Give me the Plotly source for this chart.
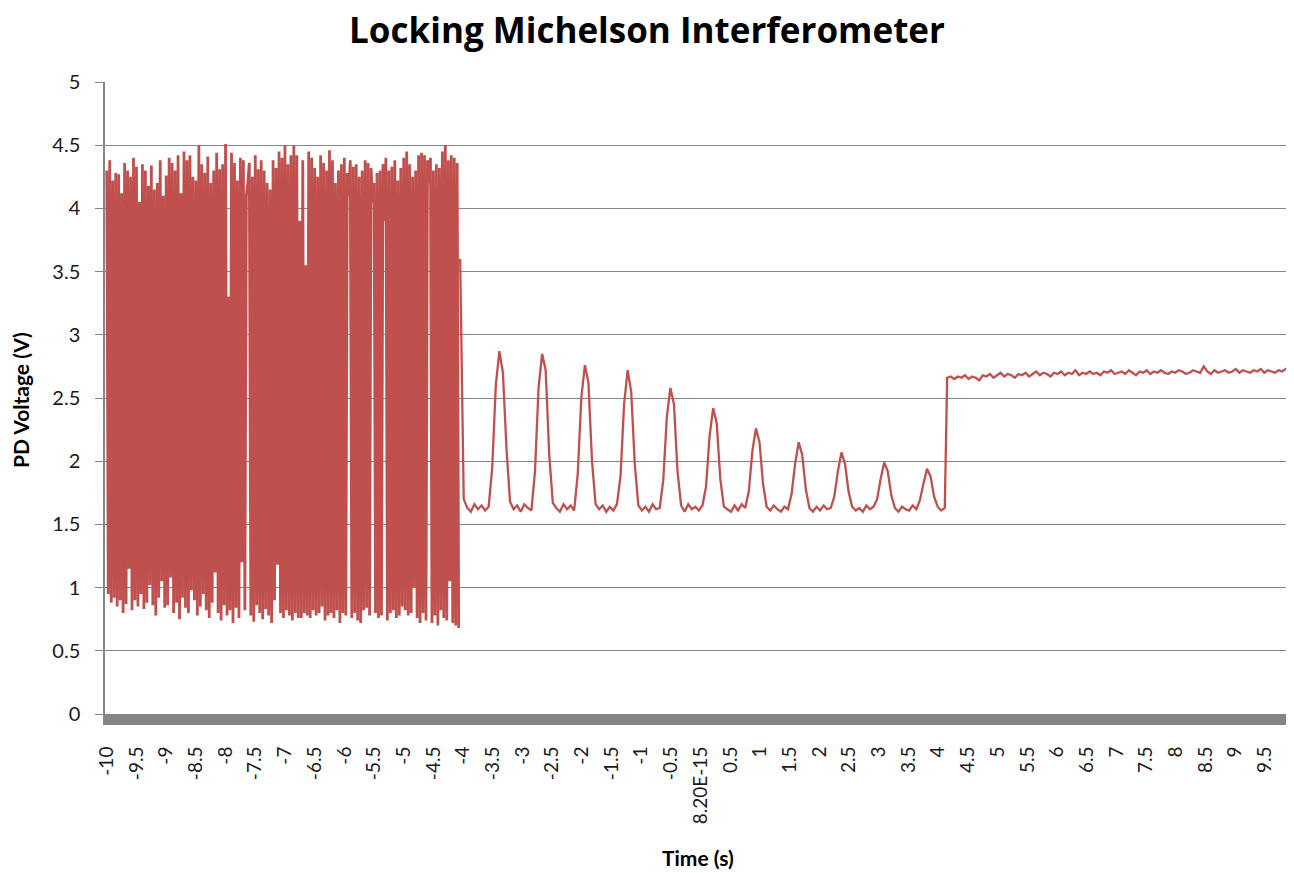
import numpy as np
import plotly.graph_objects as go

# ---------------- data ----------------
# Unlocked part: fast fringe sweeping, sampled every 0.025 s from t = -10 s
noisy_t0, noisy_dt = -10.0, 0.025
noisy_high = [
    4.30, 4.38, 4.22, 4.28, 4.27, 4.12, 4.36, 4.30, 4.25, 4.40, 4.33, 4.05, 4.35, 4.30, 4.18, 4.34, 4.15, 4.20, 4.38, 4.10,
    4.26, 4.40, 4.36, 4.30, 4.42, 4.12, 4.45, 4.38, 4.42, 4.25, 4.22, 4.50, 4.35, 4.28, 4.41, 4.20, 4.30, 4.44, 4.31, 4.35,
    4.51, 3.30, 4.44, 4.36, 4.22, 4.40, 4.38, 4.10, 4.36, 4.25, 4.42, 4.31, 4.38, 4.30, 4.20, 4.15, 4.38, 4.32, 4.45, 4.40,
    4.50, 4.35, 4.42, 4.50, 4.42, 3.90, 4.38, 3.55, 4.45, 4.40, 4.32, 4.25, 4.42, 4.36, 4.30, 4.46, 4.38, 4.20, 4.30, 4.35,
    4.40, 4.28, 4.38, 4.33, 4.35, 4.25, 4.30, 4.38, 4.36, 4.32, 4.20, 4.28, 4.30, 4.35, 4.40, 4.30, 4.33, 4.38, 4.22, 4.32,
    4.40, 4.45, 4.35, 4.25, 4.30, 4.42, 4.44, 4.42, 4.38, 4.40, 4.30, 4.35, 4.32, 4.45, 4.50, 4.38, 4.42, 4.40, 4.36,
]
noisy_low = [
    0.95, 0.88, 0.92, 0.85, 0.90, 0.80, 0.87, 1.15, 0.82, 0.90, 0.85, 0.95, 0.83, 0.88, 1.02, 0.86, 0.78, 0.92, 1.05, 0.84,
    0.86, 1.08, 0.80, 0.88, 0.75, 0.92, 0.84, 0.80, 0.98, 0.90, 0.78, 0.85, 0.95, 0.82, 0.76, 0.88, 1.12, 0.80, 0.74, 0.86,
    0.78, 0.82, 0.72, 0.84, 0.76, 1.20, 0.82, 4.20, 0.78, 0.73, 0.86, 0.80, 0.75, 0.83, 0.78, 0.72, 0.90, 1.18, 0.80, 0.76,
    0.82, 0.78, 0.74, 0.80, 0.76, 0.76, 0.80, 0.78, 0.76, 0.82, 0.78, 0.80, 0.85, 0.74, 0.78, 0.80, 0.76, 0.82, 0.72, 0.80,
    0.78, 4.10, 0.76, 0.80, 0.74, 0.72, 0.82, 0.84, 0.78, 4.05, 0.80, 0.76, 0.78, 3.90, 0.74, 0.80, 0.82, 0.76, 0.78, 0.85,
    0.82, 0.78, 0.80, 1.00, 0.76, 0.72, 0.80, 0.74, 4.20, 0.72, 0.78, 0.70, 0.82, 0.76, 0.74, 1.05, 0.72, 0.70, 0.68,
]

# Lock being acquired: decaying fringes, sampled every 0.06 s from t = -4.05 s
osc_t0, osc_dt = -4.05, 0.06
osc_values = [
    3.60, 1.70, 1.63, 1.60, 1.66, 1.62, 1.65, 1.61, 1.64,
    1.95, 2.60, 2.87, 2.70, 2.10, 1.68,
    1.62, 1.65, 1.60, 1.66, 1.63, 1.61,
    1.92, 2.58, 2.85, 2.72, 2.05, 1.67,
    1.63, 1.60, 1.66, 1.62, 1.65, 1.61,
    1.90, 2.50, 2.76, 2.62, 2.00, 1.66,
    1.62, 1.65, 1.60, 1.64, 1.61, 1.66,
    1.88, 2.45, 2.72, 2.55, 1.98, 1.65,
    1.61, 1.64, 1.60, 1.66, 1.62, 1.63,
    1.85, 2.35, 2.58, 2.45, 1.92, 1.65,
    1.60, 1.66, 1.62, 1.64, 1.61, 1.65,
    1.80, 2.20, 2.42, 2.30, 1.86, 1.64,
    1.62, 1.60, 1.65, 1.61, 1.66, 1.63,
    1.76, 2.08, 2.26, 2.15, 1.82, 1.64,
    1.61, 1.65, 1.62, 1.60, 1.64, 1.62,
    1.74, 1.98, 2.15, 2.05, 1.78, 1.63,
    1.60, 1.64, 1.61, 1.65, 1.62, 1.63,
    1.72, 1.92, 2.07, 1.98, 1.76, 1.64,
    1.61, 1.63, 1.60, 1.65, 1.62, 1.64,
    1.70, 1.86, 1.99, 1.92, 1.73, 1.63,
    1.60, 1.64, 1.62, 1.61, 1.65, 1.62,
    1.69, 1.82, 1.94, 1.88, 1.72, 1.64,
    1.61, 1.63,
]

# Locked: flat level, sampled every 0.06 s from t = 4.15 s
lock_t0, lock_dt = 4.15, 0.06
lock_values = [
    2.66, 2.67, 2.65, 2.67, 2.66, 2.68, 2.65, 2.67, 2.66, 2.64, 2.68, 2.67, 2.69, 2.66, 2.68, 2.70, 2.67, 2.69, 2.68, 2.66,
    2.69, 2.68, 2.70, 2.67, 2.69, 2.71, 2.68, 2.70, 2.69, 2.67, 2.70, 2.69, 2.71, 2.68, 2.70, 2.69, 2.72, 2.68, 2.70, 2.69,
    2.71, 2.69, 2.70, 2.68, 2.71, 2.70, 2.72, 2.69, 2.70, 2.71, 2.69, 2.72, 2.70, 2.68, 2.71, 2.70, 2.72, 2.69, 2.71, 2.70,
    2.72, 2.70, 2.69, 2.71, 2.70, 2.72, 2.71, 2.69, 2.70, 2.72, 2.71, 2.70, 2.75, 2.71, 2.69, 2.72, 2.70, 2.71, 2.72, 2.70,
    2.71, 2.73, 2.70, 2.72, 2.71, 2.70, 2.72, 2.71, 2.73, 2.70, 2.72, 2.71, 2.70, 2.72, 2.71, 2.73, 2.70, 2.72, 2.71,
]

x_tick_values = [v / 2 for v in range(-20, 20)]
x_tick_labels = ["-10", "-9.5", "-9", "-8.5", "-8", "-7.5", "-7", "-6.5", "-6", "-5.5",
                 "-5", "-4.5", "-4", "-3.5", "-3", "-2.5", "-2", "-1.5", "-1", "-0.5",
                 "8.20E-15", "0.5", "1", "1.5", "2", "2.5", "3", "3.5", "4", "4.5",
                 "5", "5.5", "6", "6.5", "7", "7.5", "8", "8.5", "9", "9.5"]
y_tick_values = [0, 0.5, 1, 1.5, 2, 2.5, 3, 3.5, 4, 4.5, 5]
y_tick_labels = ["0", "0.5", "1", "1.5", "2", "2.5", "3", "3.5", "4", "4.5", "5"]

# ---------------- assemble the traces ----------------
noisy_y = []
for h, l in zip(noisy_high, noisy_low):
    noisy_y += [h, l]
noisy_t = noisy_t0 + noisy_dt * np.arange(len(noisy_y))
osc_t = osc_t0 + osc_dt * np.arange(len(osc_values))
lock_t = lock_t0 + lock_dt * np.arange(len(lock_values))

rest_t = np.concatenate([osc_t, lock_t])
rest_v = np.concatenate([osc_values, lock_values])

FONT = "Lato"
GRID = "#868686"
RED = "#C0504D"

# page body has an 8px margin: figure origin sits at (8, 8) in the window
W, H = 1286, 865
L, T, B = 97, 74, 159
PW, PH = W - L, H - T - B

fig = go.Figure()
fig.add_trace(go.Scatter(x=noisy_t, y=noisy_y, mode="lines",
                         line=dict(color=RED, width=2.8, simplify=False),
                         hoverinfo="skip"))
fig.add_trace(go.Scatter(x=rest_t, y=rest_v, mode="lines",
                         line=dict(color=RED, width=2.3, simplify=False),
                         hoverinfo="skip"))

fig.update_layout(
    width=W, height=H,
    margin=dict(l=L, r=0, t=T, b=B, pad=0),
    paper_bgcolor="white", plot_bgcolor="white",
    showlegend=False,
    font=dict(family=FONT, color="#1a1a1a"),
    title=dict(text="Locking Michelson Interferometer", x=(647 - 8) / W, xref="container",
               xanchor="center", y=1 - 23 / H, yref="container", yanchor="middle",
               font=dict(family="Open Sans", size=35, color="black", weight="bold")),
    xaxis=dict(range=[-10.03, 9.99], tickmode="array", tickvals=x_tick_values,
               ticktext=x_tick_labels, tickangle=-90, showgrid=False, zeroline=False,
               showline=True, linecolor=GRID, linewidth=11, ticks="",
               tickfont=dict(family=FONT, size=19, color="#1a1a1a"),
               ticklabelstandoff=14),
    yaxis=dict(range=[0, 5], tickmode="array", tickvals=y_tick_values,
               ticktext=y_tick_labels, showgrid=True, gridcolor=GRID, gridwidth=1.3,
               zeroline=False, showline=True, linecolor=GRID, linewidth=1.5,
               ticks="outside", ticklen=8, tickcolor=GRID, tickwidth=1.3,
               tickfont=dict(family=FONT, size=20, color="#1a1a1a"),
               ticklabelstandoff=11),
    annotations=[
        dict(text="PD Voltage (V)", textangle=-90, xref="paper", yref="paper",
             x=(20 - 105) / PW, y=(714 - 400) / PH, xanchor="center", yanchor="middle",
             showarrow=False, font=dict(family=FONT, size=21, color="black", weight="bold")),
        dict(text="Time (s)", xref="paper", yref="paper",
             x=(698 - 105) / PW, y=(714 - 858) / PH, xanchor="center", yanchor="middle",
             showarrow=False, font=dict(family=FONT, size=21, color="black", weight="bold")),
    ],
)

fig.write_html("out.html", config={"displayModeBar": False})
